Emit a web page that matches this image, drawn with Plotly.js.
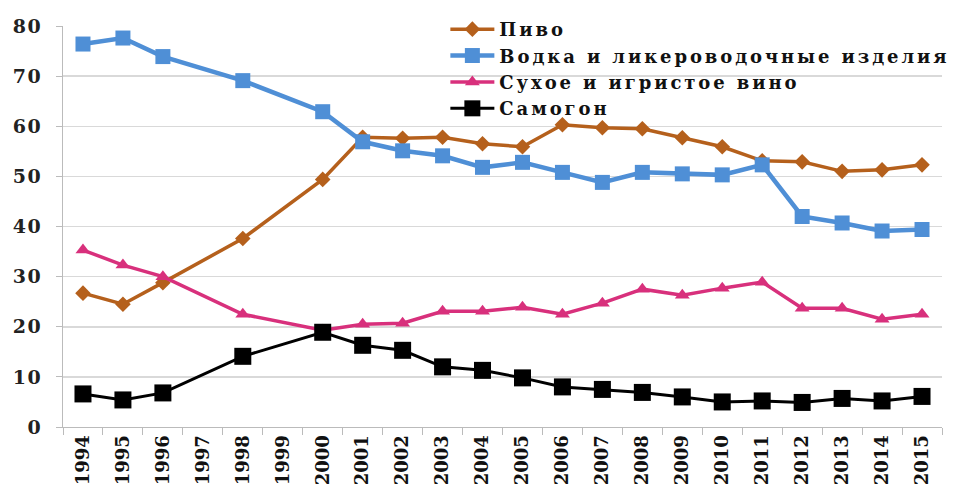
<!DOCTYPE html>
<html>
<head>
<meta charset="utf-8">
<script src="https://cdn.plot.ly/plotly-3.0.1.min.js"></script>
<style>
html,body{margin:0;padding:0;background:#fff;}
#chart{width:964px;height:493px;}
#chart .legendtext{letter-spacing:2.9px;}
#chart .legend .scrollbox{clip-path:none !important;}
#chart .ytick text{letter-spacing:1.5px;}
</style>
</head>
<body>
<div id="chart"></div>
<script>
var years = ["1994","1995","1996","1997","1998","1999","2000","2001","2002","2003","2004","2005","2006","2007","2008","2009","2010","2011","2012","2013","2014","2015"];
var beer = [26.7, 24.5, 28.8, null, 37.6, null, 49.4, 57.8, 57.6, 57.8, 56.5, 55.9, 60.3, 59.7, 59.5, 57.7, 55.9, 53.1, 52.9, 51.0, 51.3, 52.3];
var vodka = [76.4, 77.6, 73.9, null, 69.1, null, 62.9, 56.9, 55.1, 54.1, 51.8, 52.8, 50.8, 48.8, 50.8, 50.5, 50.3, 52.3, 42.0, 40.7, 39.1, 39.4];
var wine = [35.3, 32.3, 30.0, null, 22.5, null, 19.3, 20.5, 20.7, 23.1, 23.1, 23.9, 22.5, 24.7, 27.5, 26.3, 27.7, 28.9, 23.7, 23.7, 21.5, 22.5];
var samogon = [6.6, 5.4, 6.8, null, 14.1, null, 18.9, 16.3, 15.3, 12.0, 11.3, 9.8, 8.0, 7.5, 6.9, 6.0, 5.0, 5.2, 4.9, 5.7, 5.2, 6.1];
var names = ["Пиво", "Водка и ликероводочные изделия", "Сухое и игристое вино", "Самогон"];

var fontFam = "DejaVu Serif, Liberation Serif, serif";
function tr(y, name, color, symbol, size, lw) {
  return {x: years, y: y, name: name, type: "scatter", mode: "lines+markers",
    connectgaps: true,
    line: {color: color, width: lw},
    marker: {symbol: symbol, size: size, color: color}};
}
var data = [
  tr(beer, names[0], "#B5601C", "diamond", 12, 3.5),
  tr(vodka, names[1], "#4F8FD6", "square", 15, 4.5),
  tr(wine, names[2], "#D8307C", "triangle-up", 13, 3.5),
  tr(samogon, names[3], "#000000", "square", 17, 3)
];
var layout = {
  width: 964, height: 493,
  margin: {l: 63, r: 22, t: 25, b: 66},
  paper_bgcolor: "#fff", plot_bgcolor: "#fff",
  showlegend: true,
  legend: {x: 0.435, y: 1.035, xanchor: "left", yanchor: "top", bgcolor: "rgba(0,0,0,0)",
    font: {family: fontFam, size: 18, color: "#111", weight: "bold"}, tracegroupgap: 0, itemwidth: 44},
  xaxis: {type: "category", range: [-0.5, 21.5], tickangle: -90, showgrid: false, showline: true, linecolor: "#bbb", linewidth: 1,
    ticks: "outside", tickson: "boundaries", ticklen: 7, tickcolor: "#bbb",
    tickfont: {family: fontFam, size: 18, color: "#111", weight: "bold"}},
  yaxis: {range: [0, 80], dtick: 10, showgrid: true, gridcolor: "#d9d9d9", gridwidth: 1.5,
    showline: true, linecolor: "#bbb", zeroline: false, ticks: "outside", ticklen: 6, tickcolor: "#bbb",
    ticklabelstandoff: 10,
    tickfont: {family: fontFam, size: 19, color: "#222", weight: "bold"}}
};
Plotly.newPlot("chart", data, layout, {displayModeBar: false, staticPlot: true});
</script>
</body>
</html>
